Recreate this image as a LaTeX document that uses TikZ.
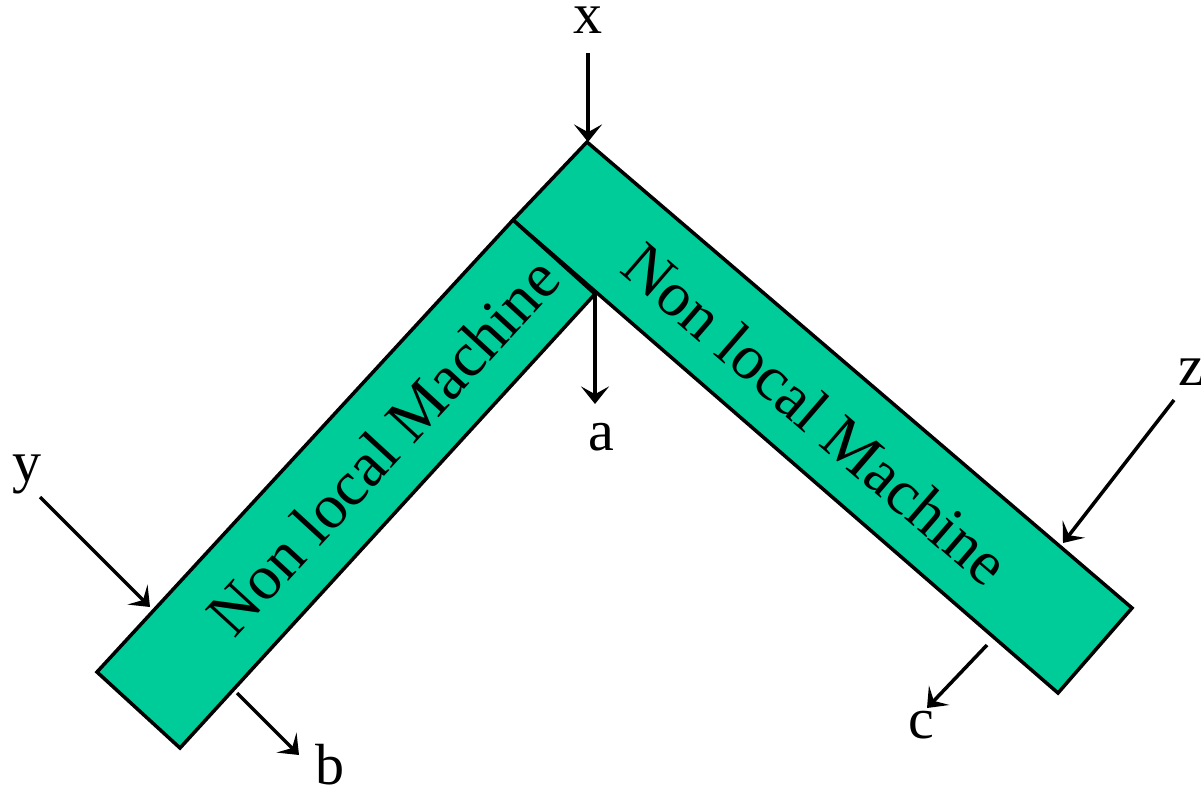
\documentclass[tikz,border=0pt]{standalone}
\usepackage{fontspec}
\setmainfont{Liberation Serif}
\usetikzlibrary{arrows.meta}
\definecolor{barfill}{RGB}{0,204,153}
\begin{document}
\begin{tikzpicture}[x=0.01cm,y=-0.01cm,
  bar/.style={fill=barfill,draw=black,line width=1pt,line join=miter},
  conn/.style={line width=1pt,-{Stealth[length=5pt,width=8pt,inset=2.2pt]}},
  lbl/.style={font=\fontsize{16.5}{18}\selectfont,anchor=base,inner sep=0pt},
  bartext/.style={font=\fontsize{18}{20}\selectfont,inner sep=0pt}]
\useasboundingbox (0,0) rectangle (1201,788);
% bars
\draw[bar] (513,220) -- (587,142) -- (1132,608) -- (1058,693) -- cycle;
\draw[bar] (97,672) -- (513,220) -- (595,294) -- (180,748) -- cycle;
\node[bartext,rotate=47.4] (lm) at (383,446) {Non local Machine};
\node[bartext,rotate=-40.8] (rm) at (816,414) {Non local Machine};
% labels
\node[lbl] (x) at (588,34) {x};
\node[lbl] (a) at (601,450) {a};
\node[lbl] (y) at (27,481) {y};
\node[lbl] (b) at (330,784) {b};
\node[lbl] (z) at (1191,385) {z};
\node[lbl] (c) at (921,738) {c};
% connector ends
\coordinate (xs) at (588,53);
\coordinate (xe) at (588,142);
\coordinate (as) at (595,294);
\coordinate (ae) at (595,404);
\coordinate (ys) at (40,497);
\coordinate (ye) at (150,607);
\coordinate (bs) at (237,693);
\coordinate (be) at (299,755);
\coordinate (zs) at (1174,400);
\coordinate (ze) at (1063,543);
\coordinate (cs) at (987,645);
\coordinate (ce) at (927,708);
\draw[conn] (xs) -- (xe);
\draw[conn] (as) -- (ae);
\draw[conn] (ys) -- (ye);
\draw[conn] (bs) -- (be);
\draw[conn] (zs) -- (ze);
\draw[conn] (cs) -- (ce);
\end{tikzpicture}
\end{document}
